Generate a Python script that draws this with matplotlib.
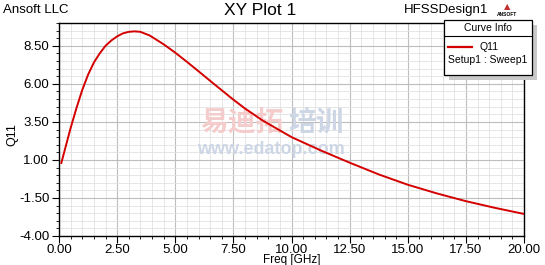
import matplotlib
matplotlib.use("Agg")
import matplotlib.pyplot as plt
from matplotlib.patches import Rectangle
from matplotlib.lines import Line2D
from matplotlib.ticker import MultipleLocator, FormatStrFormatter

plt.rcParams['font.family'] = ['Liberation Sans', 'DejaVu Sans']

# ── data ──────────────────────────────────────────────────────────────
freq_ghz = [0.1, 0.3, 0.5, 0.75, 1.0, 1.25, 1.5, 1.75, 2.0, 2.25, 2.5,
            2.75, 3.0, 3.25, 3.5, 3.9, 4.5, 5.0, 5.5, 6.0, 6.5, 7.0,
            7.5, 8.0, 8.75, 10.0, 11.25, 12.5, 13.75, 15.0, 16.25,
            17.5, 18.75, 20.0]
q11 = [0.8, 1.95, 3.1, 4.4, 5.6, 6.6, 7.4, 8.0, 8.5, 8.85, 9.12,
       9.32, 9.42, 9.45, 9.42, 9.18, 8.6, 8.05, 7.45, 6.83, 6.2, 5.58,
       4.96, 4.38, 3.6, 2.5, 1.63, 0.82, 0.05, -0.63, -1.2,
       -1.71, -2.15, -2.55]

x_ticks = [0.0, 2.5, 5.0, 7.5, 10.0, 12.5, 15.0, 17.5, 20.0]
y_ticks = [-4.0, -1.5, 1.0, 3.5, 6.0, 8.5]

W, H = 545, 265
fig = plt.figure(figsize=(W / 100, H / 100), dpi=100)
fig.patch.set_facecolor('white')

# axes box in pixel coords
left, right, top, bottom = 59, 524, 23, 236
ax = fig.add_axes([left / W, (H - bottom) / H, (right - left) / W, (bottom - top) / H])

ax.plot(freq_ghz, q11, color='#d40000', linewidth=1.4, zorder=3,
        solid_joinstyle='round')

ax.set_xlim(0, 20)
ax.set_ylim(-4, 10)
ax.set_xticks(x_ticks)
ax.set_yticks(y_ticks)
ax.xaxis.set_minor_locator(MultipleLocator(0.5))
ax.yaxis.set_minor_locator(MultipleLocator(0.5))
ax.xaxis.set_major_formatter(FormatStrFormatter('%.2f'))
ax.yaxis.set_major_formatter(FormatStrFormatter('%.2f'))

ax.grid(which='major', color='#bdbdbd', linewidth=0.8)
ax.grid(which='minor', color='#e2e2e2', linewidth=0.6)
ax.set_axisbelow(True)
for s in ax.spines.values():
    s.set_linewidth(1.0)
    s.set_color('black')

ax.tick_params(which='major', direction='out', length=5, width=0.8,
               labelsize=9.5, pad=1, color='black')
ax.tick_params(which='minor', direction='out', length=2.5, width=0.6)
ax.tick_params(axis='y', which='major', pad=2)

ax.set_xlabel('Freq [GHz]', fontsize=8.5)
ax.xaxis.set_label_coords((292 - left) / (right - left), -(260 - bottom) / (bottom - top))
ax.xaxis.label.set_va('center')
ax.set_ylabel('Q11', fontsize=9)
ax.yaxis.set_label_coords(-(left - 12) / (right - left), (bottom - 135) / (bottom - top))
ax.yaxis.label.set_va('center')

# ── watermark ─────────────────────────────────────────────────────────
ax.text(242 / W, 1 - 123 / H, '易迪拓', fontsize=20, color='#f4cccc',
        ha='center', va='center', family=['Noto Sans CJK SC'], fontweight='bold',
        transform=fig.transFigure, zorder=2.5)
ax.text(316 / W, 1 - 123 / H, '培训', fontsize=20, color='#cdd6e5',
        ha='center', va='center', family=['Noto Sans CJK SC'], fontweight='bold',
        transform=fig.transFigure, zorder=2.5)
ax.text(271 / W, 1 - 150 / H, 'www.edatop.com', fontsize=13, color='#cdd6e5',
        ha='center', va='center', fontweight='bold',
        transform=fig.transFigure, zorder=2.5)

# ── header texts ──────────────────────────────────────────────────────
fig.text(3 / W, 1 - 13 / H, 'Ansoft LLC', fontsize=9.5, ha='left', va='baseline')
fig.text(260 / W, 1 - 15 / H, 'XY Plot 1', fontsize=12.5, ha='center', va='baseline')
fig.text(404 / W, 1 - 13 / H, 'HFSSDesign1', fontsize=9.5, ha='left', va='baseline')
fig.text(507 / W, 1 - 9 / H, '\u25b2', fontsize=6, color='#c03030', ha='center',
         va='baseline', family='DejaVu Sans')
fig.text(507 / W, 1 - 16 / H, 'ANSOFT', fontsize=3.5, fontweight='bold',
         ha='center', va='baseline')

# ── curve info box ────────────────────────────────────────────────────
bx0, by0, bx1, by1 = 444, 20, 532, 75
fig.add_artist(Rectangle(((bx0 + 5) / W, 1 - (by1 + 5) / H), (bx1 - bx0) / W,
                         (by1 - by0) / H, transform=fig.transFigure,
                         facecolor='#c8c8c8', edgecolor='none', zorder=6))
fig.add_artist(Rectangle((bx0 / W, 1 - by1 / H), (bx1 - bx0) / W, (by1 - by0) / H,
                         transform=fig.transFigure, facecolor='white',
                         edgecolor='black', linewidth=0.9, zorder=7))
fig.add_artist(Line2D([bx0 / W, bx1 / W], [1 - 36 / H, 1 - 36 / H],
                      transform=fig.transFigure, color='black', linewidth=0.8, zorder=8))
fig.text(488 / W, 1 - 28 / H, 'Curve Info', fontsize=7.5, ha='center',
         va='center', zorder=9)
fig.add_artist(Line2D([448 / W, 472 / W], [1 - 47 / H, 1 - 47 / H],
                      transform=fig.transFigure, color='#d40000', linewidth=1.6, zorder=8))
fig.text(480 / W, 1 - 47 / H, 'Q11', fontsize=7.5, ha='left', va='center', zorder=9)
fig.text(488 / W, 1 - 60 / H, 'Setup1 : Sweep1', fontsize=7.5, ha='center',
         va='center', zorder=9)

fig.savefig('out.png', dpi=100)
